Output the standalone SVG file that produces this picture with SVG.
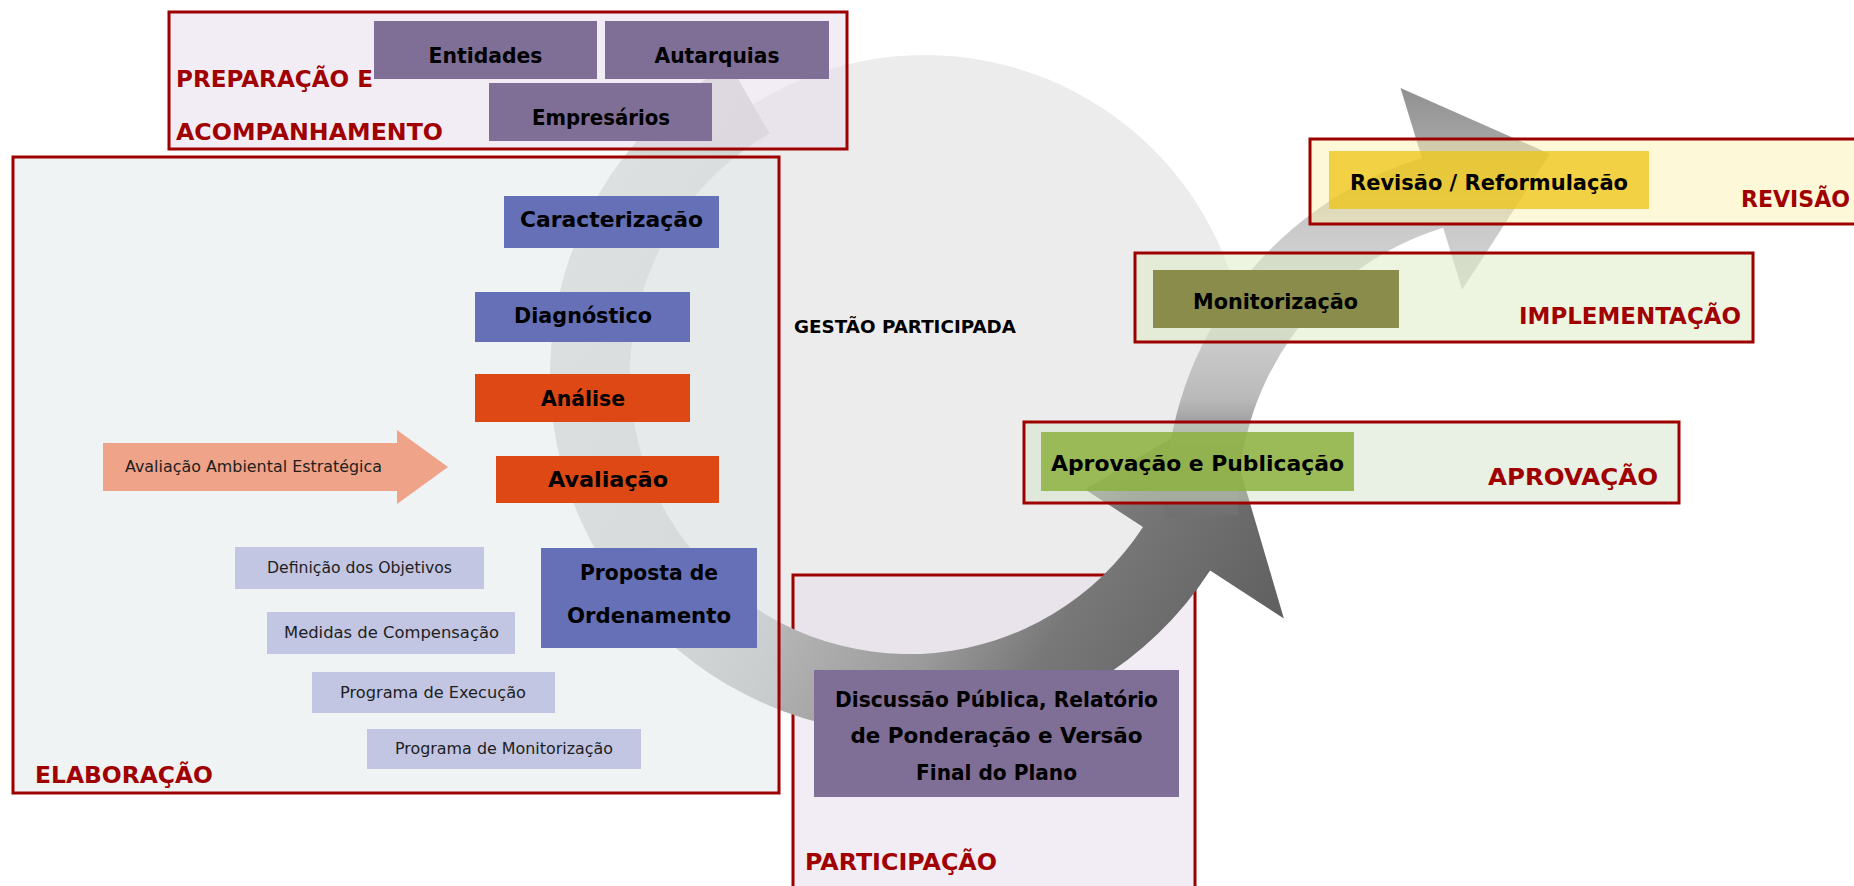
<svg xmlns="http://www.w3.org/2000/svg" width="1854" height="886" viewBox="0 0 1854 886">
<defs>
<style>
.ob{stroke:#9e0000;stroke-width:3}
.ttl{font-family:"DejaVu Sans",sans-serif;font-weight:bold;font-size:23px;fill:#a00000}
.lbl{font-family:"DejaVu Sans",sans-serif;font-weight:bold;font-size:21px;fill:#000;text-anchor:middle}
.sm{font-family:"DejaVu Sans",sans-serif;font-size:15px;fill:#1e1e1e;text-anchor:middle}
.purple{fill:#7f6e96}
.blue{fill:#6670b6}
.orange{fill:#dd4814}
.lav{fill:#c2c6e2}
</style>
<linearGradient id="g1" gradientUnits="userSpaceOnUse" x1="600" y1="200" x2="1290" y2="620">
<stop offset="0" stop-color="#d8d8d8"/>
<stop offset="0.3" stop-color="#cfcfcf"/>
<stop offset="0.5" stop-color="#b0b0b0"/>
<stop offset="0.64" stop-color="#9a9a9a"/>
<stop offset="0.76" stop-color="#787878"/>
<stop offset="1" stop-color="#5e5e5e"/>
</linearGradient>
<linearGradient id="g2" gradientUnits="userSpaceOnUse" x1="0" y1="85" x2="0" y2="520">
<stop offset="0" stop-color="#8f8f8f"/>
<stop offset="0.15" stop-color="#a8a8a8"/>
<stop offset="0.33" stop-color="#cacaca"/>
<stop offset="0.5" stop-color="#d6d6d6"/>
<stop offset="0.72" stop-color="#bababa"/>
<stop offset="0.816" stop-color="#8e8e8e"/>
<stop offset="0.91" stop-color="#777777"/>
<stop offset="1" stop-color="#707070"/>
</linearGradient>
</defs>

<rect width="1854" height="886" fill="#ffffff"/>

<g id="background-disc">
<circle cx="925" cy="378" r="323" fill="#ececec"/>
</g>

<g id="participacao">
<rect class="ob" x="793" y="575" width="402" height="330" fill="#e6dcea" fill-opacity="0.5"/>
</g>

<g id="connectors">
<path id="cycle-arrow" d="M729.5,64.1 A359,359 0 1 0 1210.1,570.5 L1283.9,618.4 L1222,408 L1085.1,489.4 L1143,526.9 A279,279 0 1 1 769.5,133.4 Z" fill="url(#g1)"/>
<path id="review-arrow" d="M1165.2,517.7 A363,363 0 0 1 1421.9,157.9 L1400.5,88 L1550,154 L1462.2,289.8 L1443.2,227.7 A290,290 0 0 0 1238.2,515.1 Z" fill="url(#g2)"/>
</g>

<g id="preparacao">
<rect class="ob" x="169" y="12" width="678" height="137" fill="#e6dcea" fill-opacity="0.5"/>
</g>
<g id="elaboracao">
<rect class="ob" x="13" y="157" width="766" height="636" fill="#dfe7ea" fill-opacity="0.5"/>
</g>
<g id="revisao">
<rect class="ob" x="1310" y="139" width="560" height="85" fill="#fbf1b0" fill-opacity="0.5"/>
</g>
<g id="implementacao">
<rect class="ob" x="1135" y="253" width="618" height="89" fill="#dcecc4" fill-opacity="0.5"/>
</g>
<g id="aprovacao">
<rect class="ob" x="1024" y="422" width="655" height="81" fill="#d3e3cb" fill-opacity="0.5"/>
</g>

<g id="entidades"><rect class="purple" x="374" y="21" width="223" height="58"/><text class="lbl" x="485.5" y="63" textLength="114" lengthAdjust="spacingAndGlyphs">Entidades</text></g>
<g id="autarquias"><rect class="purple" x="605" y="21" width="224" height="58"/><text class="lbl" x="717" y="63" textLength="125" lengthAdjust="spacingAndGlyphs">Autarquias</text></g>
<g id="empresarios"><rect class="purple" x="489" y="83" width="223" height="58"/><text class="lbl" x="601" y="125" textLength="138" lengthAdjust="spacingAndGlyphs">Empresários</text></g>

<g id="caracterizacao"><rect class="blue" x="504" y="196" width="215" height="52"/><text class="lbl" x="611.5" y="227" textLength="183" lengthAdjust="spacingAndGlyphs">Caracterização</text></g>
<g id="diagnostico"><rect class="blue" x="475" y="292" width="215" height="50"/><text class="lbl" x="583" y="323" textLength="138" lengthAdjust="spacingAndGlyphs">Diagnóstico</text></g>
<g id="analise"><rect class="orange" x="475" y="374" width="215" height="48"/><text class="lbl" x="583" y="406" textLength="84" lengthAdjust="spacingAndGlyphs">Análise</text></g>
<g id="avaliacao"><rect class="orange" x="496" y="456" width="223" height="47"/><text class="lbl" x="608" y="487" textLength="120" lengthAdjust="spacingAndGlyphs">Avaliação</text></g>

<g id="aae"><path d="M103,443 H397 V430 L448,467 L397,504 V491 H103 Z" fill="#efa388"/><text class="sm" x="253.5" y="472" textLength="257" lengthAdjust="spacingAndGlyphs">Avaliação Ambiental Estratégica</text></g>

<g id="definicao"><rect class="lav" x="235" y="547" width="249" height="42"/><text class="sm" x="359.5" y="573" textLength="185" lengthAdjust="spacingAndGlyphs">Definição dos Objetivos</text></g>
<g id="medidas"><rect class="lav" x="267" y="612" width="248" height="42"/><text class="sm" x="391.5" y="638" textLength="215" lengthAdjust="spacingAndGlyphs">Medidas de Compensação</text></g>
<g id="execucao"><rect class="lav" x="312" y="672" width="243" height="41"/><text class="sm" x="433" y="698" textLength="186" lengthAdjust="spacingAndGlyphs">Programa de Execução</text></g>
<g id="prog-monitorizacao"><rect class="lav" x="367" y="729" width="274" height="40"/><text class="sm" x="504" y="754" textLength="218" lengthAdjust="spacingAndGlyphs">Programa de Monitorização</text></g>

<g id="proposta"><rect class="blue" x="541" y="548" width="216" height="100"/><text class="lbl" x="649" y="580" textLength="138" lengthAdjust="spacingAndGlyphs">Proposta de</text><text class="lbl" x="649" y="623" textLength="164" lengthAdjust="spacingAndGlyphs">Ordenamento</text></g>

<g id="discussao"><rect class="purple" x="814" y="670" width="365" height="127"/>
<text class="lbl" x="996.5" y="707" textLength="323" lengthAdjust="spacingAndGlyphs">Discussão Pública, Relatório</text>
<text class="lbl" x="996.5" y="743" textLength="292" lengthAdjust="spacingAndGlyphs">de Ponderação e Versão</text>
<text class="lbl" x="996.5" y="780" textLength="161" lengthAdjust="spacingAndGlyphs">Final do Plano</text></g>

<g id="aprovacao-publicacao"><rect x="1041" y="432" width="313" height="59" fill="#8db140" fill-opacity="0.85"/><text class="lbl" x="1197.5" y="471" textLength="293" lengthAdjust="spacingAndGlyphs">Aprovação e Publicação</text></g>
<g id="monitorizacao"><rect x="1153" y="270" width="246" height="58" fill="#898c4b"/><text class="lbl" x="1275.5" y="309" textLength="165" lengthAdjust="spacingAndGlyphs">Monitorização</text></g>
<g id="revisao-reformulacao"><rect x="1329" y="151" width="320" height="58" fill="#edc414" fill-opacity="0.75"/><text class="lbl" x="1489" y="190" textLength="278" lengthAdjust="spacingAndGlyphs">Revisão / Reformulação</text></g>

<g id="gestao"><text x="794" y="333" font-family="DejaVu Sans, sans-serif" font-weight="bold" font-size="18" fill="#000" textLength="222" lengthAdjust="spacingAndGlyphs">GESTÃO PARTICIPADA</text></g>

<g id="titles">
<text class="ttl" x="176" y="87" textLength="197" lengthAdjust="spacingAndGlyphs">PREPARAÇÃO E</text>
<text class="ttl" x="176" y="140" textLength="267" lengthAdjust="spacingAndGlyphs">ACOMPANHAMENTO</text>
<text class="ttl" x="35" y="783" textLength="178" lengthAdjust="spacingAndGlyphs">ELABORAÇÃO</text>
<text class="ttl" x="805" y="870" textLength="192" lengthAdjust="spacingAndGlyphs">PARTICIPAÇÃO</text>
<text class="ttl" x="1488" y="485" textLength="170" lengthAdjust="spacingAndGlyphs">APROVAÇÃO</text>
<text class="ttl" x="1519" y="324" textLength="222" lengthAdjust="spacingAndGlyphs">IMPLEMENTAÇÃO</text>
<text class="ttl" x="1741" y="207" textLength="109" lengthAdjust="spacingAndGlyphs">REVISÃO</text>
</g>
</svg>
